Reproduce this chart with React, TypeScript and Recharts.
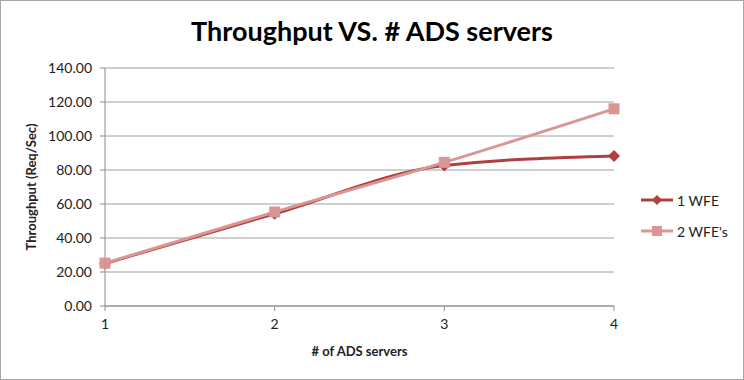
import { LineChart, Line, XAxis, YAxis, CartesianGrid, Label } from "recharts"

const servers = [1, 2, 3, 4]
const oneWfe = [25.0, 54.3, 82.6, 88.3]
const twoWfe = [25.2, 55.3, 84.5, 116.0]
const yTicks = [0, 20, 40, 60, 80, 100, 120, 140]

const seriesNames = ["1 WFE", "2 WFE's"]
const darkRed = "#b0403f"
const pink = "#d99694"
const font = "Lato, 'Open Sans', sans-serif"

const data = servers.map((s, i) => ({
  servers: s,
  one: oneWfe[i],
  two: twoWfe[i],
}))

const Diamond = (props: any) => {
  const { cx, cy } = props
  if (cx == null || cy == null) return null
  const r = 6
  return (
    <path
      d={`M${cx},${cy - r}L${cx + r},${cy}L${cx},${cy + r}L${cx - r},${cy}Z`}
      fill={darkRed}
    />
  )
}

const Square = (props: any) => {
  const { cx, cy } = props
  if (cx == null || cy == null) return null
  const s = 11
  return <rect x={cx - s / 2} y={cy - s / 2} width={s} height={s} fill={pink} />
}

function LegendBox() {
  return (
    <div style={{ position: "absolute", left: 638, top: 188, fontFamily: font, fontSize: 14, color: "#222" }}>
      <div style={{ display: "flex", alignItems: "center", height: 22 }}>
        <svg width={36} height={14}>
          <line x1={2} y1={7} x2={34} y2={7} stroke={darkRed} strokeWidth={3} />
          <path d="M18,2L23,7L18,12L13,7Z" fill={darkRed} />
        </svg>
        <span style={{ marginLeft: 2 }}>{seriesNames[0]}</span>
      </div>
      <div style={{ display: "flex", alignItems: "center", height: 22, marginTop: 9 }}>
        <svg width={36} height={14}>
          <line x1={2} y1={7} x2={34} y2={7} stroke={pink} strokeWidth={3} />
          <rect x={13} y={2} width={10} height={10} fill={pink} />
        </svg>
        <span style={{ marginLeft: 2 }}>{seriesNames[1]}</span>
      </div>
    </div>
  )
}

export default function App() {
  return (
    <div
      style={{
        position: "absolute",
        left: 0,
        top: 0,
        width: 742,
        height: 378,
        border: "1px solid #a6a6a6",
        background: "#fff",
      }}
    >
      <div
        style={{
          position: "absolute",
          left: 0,
          width: 742,
          top: 13,
          textAlign: "center",
          fontFamily: font,
          fontWeight: 700,
          fontSize: 27,
          color: "#000",
        }}
      >
        Throughput VS. # ADS servers
      </div>
      <LineChart
        width={742}
        height={378}
        data={data}
        margin={{ top: 67, right: 129, left: 0, bottom: 0 }}
      >
        <CartesianGrid vertical={false} stroke="#a0a0a0" strokeWidth={1} />
        <XAxis
          dataKey="servers"
          type="number"
          domain={[1, 4]}
          ticks={servers}
          stroke="#8c8c8c"
          tickSize={5}
          tickMargin={8}
          height={73}
          tick={{ fill: "#222", fontSize: 14, fontFamily: font }}
        >
          <Label
            value="# of ADS servers"
            position="insideTop"
            offset={41}
            style={{ fontFamily: font, fontWeight: 700, fontSize: 13, fill: "#222" }}
          />
        </XAxis>
        <YAxis
          domain={[0, 140]}
          ticks={yTicks}
          width={104}
          stroke="#8c8c8c"
          tickSize={5}
          tickMargin={8}
          tickFormatter={(v: number) => v.toFixed(2)}
          tick={{ fill: "#222", fontSize: 14, fontFamily: font }}
        >
          <Label
            value="Throughput  (Req/Sec)"
            angle={-90}
            position="insideLeft"
            offset={30}
            style={{ fontFamily: font, fontWeight: 700, fontSize: 13, fill: "#222", textAnchor: "middle" }}
          />
        </YAxis>
        <Line
          dataKey="one"
          name={seriesNames[0]}
          type="monotone"
          stroke={darkRed}
          strokeWidth={3}
          dot={<Diamond />}
          activeDot={false}
          isAnimationActive={false}
        />
        <Line
          dataKey="two"
          name={seriesNames[1]}
          type="monotone"
          stroke={pink}
          strokeWidth={3}
          dot={<Square />}
          activeDot={false}
          isAnimationActive={false}
        />
      </LineChart>
      <LegendBox />
    </div>
  )
}
